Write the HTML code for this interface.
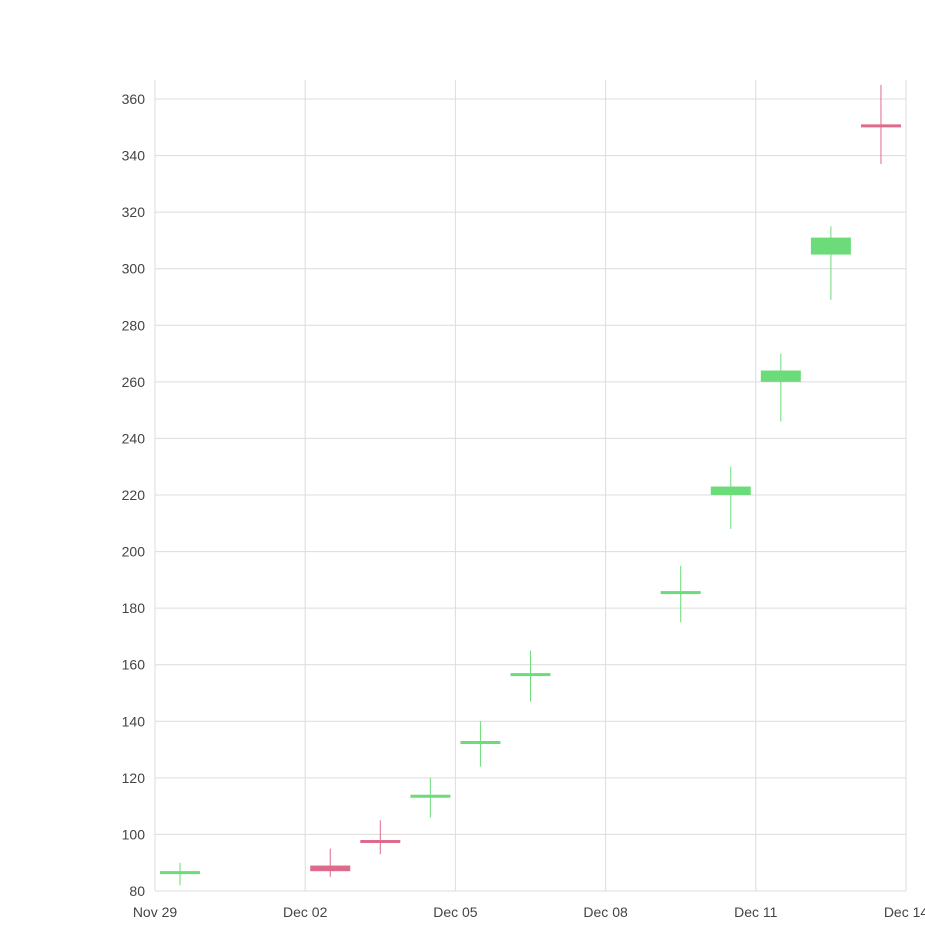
<!DOCTYPE html>
<html><head><meta charset="utf-8"><style>
body{margin:0;background:#fff;}
svg{display:block;font-family:"Liberation Sans",sans-serif;}
</style></head><body>
<svg id="chart" width="925" height="932"></svg>
<script>
const dates=["2018-11-29","2018-12-02","2018-12-03","2018-12-04","2018-12-05","2018-12-06","2018-12-09","2018-12-10","2018-12-11","2018-12-12","2018-12-13"];
const opens=[86,89,98,113,132,156,185,220,260,305,351];
const closes=[87,87,97,114,133,157,186,223,264,311,350];
const highs=[90,95,105,120,140,165,195,230,270,315,365];
const lows=[82,85,93,106,124,147,175,208,246,289,337];
const yTicks=[80,100,120,140,160,180,200,220,240,260,280,300,320,340,360];
const xTickLabels=["Nov 29","Dec 02","Dec 05","Dec 08","Dec 11","Dec 14"];
const xTickDays=[0,3,6,9,12,15];

const NS="http://www.w3.org/2000/svg";
const svg=document.getElementById('chart');
const X0=155,X1=906,Y0=891,YTOP=80;
const base=Date.UTC(2018,10,29);
function dayIdx(s){const p=s.split('-');return (Date.UTC(+p[0],+p[1]-1,+p[2])-base)/864e5;}
function x(d){return X0+d*(X1-X0)/15;}
function y(v){return Y0-(v-80)*(891-99)/280;}
function el(t,a){const e=document.createElementNS(NS,t);for(const k in a)e.setAttribute(k,a[k]);svg.appendChild(e);return e;}

yTicks.forEach(v=>{
  const l=el('line',{x1:X0,x2:X1,y1:y(v),y2:y(v),stroke:'#dcdcdc','stroke-width':1});
  
  
  const t=el('text',{x:145,y:y(v)+5,'text-anchor':'end','font-size':14,fill:'#444'});
  t.textContent=v;
  
  
});
xTickDays.forEach((d,i)=>{
  const l=el('line',{x1:x(d),x2:x(d),y1:YTOP,y2:Y0,stroke:'#dcdcdc','stroke-width':1});
  
  
  const t=el('text',{x:x(d),y:917,'text-anchor':'middle','font-size':14,fill:'#444'});
  t.textContent=xTickLabels[i];
  
  
});
dates.forEach((s,i)=>{
  const cx=x(dayIdx(s)+0.5);
  const up=closes[i]>=opens[i];
  const col=up?'#6cdc7a':'#de6a8c';
  const w=el('line',{x1:cx,x2:cx,y1:y(highs[i]),y2:y(lows[i]),stroke:col,'stroke-width':1});
  
  
  let top=y(Math.max(opens[i],closes[i])),bot=y(Math.min(opens[i],closes[i]));
  if(bot-top<3){const m=(top+bot)/2;top=m-1.5;bot=m+1.5;}
  const r=el('rect',{x:cx-20,y:top,width:40,height:bot-top,fill:col});
  
  
});
</script>
</body></html>
